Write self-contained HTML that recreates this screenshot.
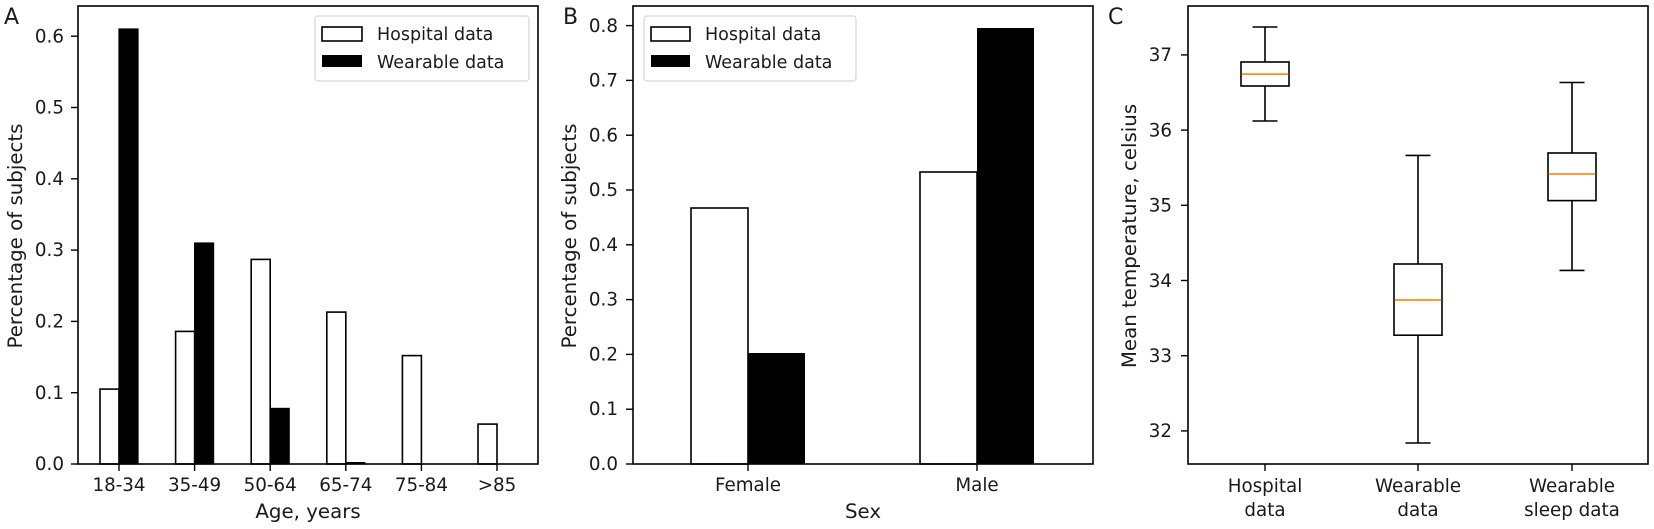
<!DOCTYPE html>
<html><head><meta charset="utf-8"><style>
html,body{margin:0;padding:0;background:#fff;}
svg{display:block;}
text{font-family:"DejaVu Sans","Liberation Sans",sans-serif;fill:#1a1a1a;}
.al{font-size:19.8px;}
</style></head><body>
<svg width="1654" height="529" viewBox="0 0 1654 529" xmlns="http://www.w3.org/2000/svg">
<g font-size="18.3">
<!-- Panel A -->
<text x="4" y="24" font-size="22">A</text>
<g stroke="#000" stroke-width="1.6" fill="#fff">
<rect x="100" y="389.1" width="19" height="74.9"/>
<rect x="175.6" y="331.4" width="19" height="132.6"/>
<rect x="251.2" y="259.4" width="19" height="204.6"/>
<rect x="326.8" y="312.1" width="19" height="151.9"/>
<rect x="402.4" y="355.6" width="19" height="108.4"/>
<rect x="478" y="424.1" width="19" height="39.9"/>
</g>
<g fill="#000" stroke="#000" stroke-width="1.2">
<rect x="119" y="29" width="19" height="435"/>
<rect x="194.6" y="243" width="19" height="221"/>
<rect x="270.2" y="408.4" width="19" height="55.6"/>
<rect x="345.8" y="462.6" width="19" height="1.4"/>
</g>
<rect x="78" y="6" width="460" height="458" fill="none" stroke="#000" stroke-width="1.6"/>
<g stroke="#000" stroke-width="1.4">
<line x1="71" x2="78" y1="464" y2="464"/><line x1="71" x2="78" y1="392.7" y2="392.7"/>
<line x1="71" x2="78" y1="321.4" y2="321.4"/><line x1="71" x2="78" y1="250.1" y2="250.1"/>
<line x1="71" x2="78" y1="178.8" y2="178.8"/><line x1="71" x2="78" y1="107.5" y2="107.5"/>
<line x1="71" x2="78" y1="36.2" y2="36.2"/>
<line x1="119" x2="119" y1="464" y2="471"/><line x1="194.6" x2="194.6" y1="464" y2="471"/>
<line x1="270.2" x2="270.2" y1="464" y2="471"/><line x1="345.8" x2="345.8" y1="464" y2="471"/>
<line x1="421.4" x2="421.4" y1="464" y2="471"/><line x1="497" x2="497" y1="464" y2="471"/>
</g>
<g text-anchor="end">
<text x="64" y="470">0.0</text><text x="64" y="399">0.1</text><text x="64" y="327.5">0.2</text>
<text x="64" y="256">0.3</text><text x="64" y="185">0.4</text><text x="64" y="113.5">0.5</text><text x="64" y="42.5">0.6</text>
</g>
<g text-anchor="middle">
<text x="119" y="491">18-34</text><text x="194.6" y="491">35-49</text><text x="270.2" y="491">50-64</text>
<text x="345.8" y="491">65-74</text><text x="421.4" y="491">75-84</text><text x="497" y="491">&gt;85</text>
<text class="al" x="308" y="518">Age, years</text>
<text class="al" transform="translate(22,236) rotate(-90)">Percentage of subjects</text>
</g>
<rect x="315" y="16" width="214" height="65" rx="3" fill="#fff" fill-opacity="0.8" stroke="#d6d6d6" stroke-width="1.2"/>
<rect x="322" y="27" width="40" height="14" fill="#fff" stroke="#000" stroke-width="1.6"/>
<rect x="322" y="55" width="40" height="12" fill="#000"/>
<text x="377" y="40" font-size="17.5">Hospital data</text>
<text x="377" y="68" font-size="17.5">Wearable data</text>

<!-- Panel B -->
<text x="563" y="24" font-size="22">B</text>
<g stroke="#000" stroke-width="1.6" fill="#fff">
<rect x="691" y="208" width="57" height="256"/>
<rect x="920" y="172" width="57" height="292"/>
</g>
<g fill="#000">
<rect x="748" y="353" width="57" height="111"/>
<rect x="977" y="28" width="57" height="436"/>
</g>
<rect x="633" y="6" width="460" height="458" fill="none" stroke="#000" stroke-width="1.6"/>
<g stroke="#000" stroke-width="1.4">
<line x1="626" x2="633" y1="464" y2="464"/><line x1="626" x2="633" y1="409.2" y2="409.2"/>
<line x1="626" x2="633" y1="354.4" y2="354.4"/><line x1="626" x2="633" y1="299.6" y2="299.6"/>
<line x1="626" x2="633" y1="244.8" y2="244.8"/><line x1="626" x2="633" y1="190" y2="190"/>
<line x1="626" x2="633" y1="135.2" y2="135.2"/><line x1="626" x2="633" y1="80.4" y2="80.4"/>
<line x1="626" x2="633" y1="25.6" y2="25.6"/>
<line x1="748" x2="748" y1="464" y2="471"/><line x1="977" x2="977" y1="464" y2="471"/>
</g>
<g text-anchor="end">
<text x="618" y="470">0.0</text><text x="618" y="415">0.1</text><text x="618" y="360.5">0.2</text>
<text x="618" y="305.5">0.3</text><text x="618" y="251">0.4</text><text x="618" y="196">0.5</text>
<text x="618" y="141.5">0.6</text><text x="618" y="86.5">0.7</text><text x="618" y="32">0.8</text>
</g>
<g text-anchor="middle">
<text x="748" y="491">Female</text><text x="977" y="491">Male</text>
<text class="al" x="863" y="518">Sex</text>
<text class="al" transform="translate(576,236) rotate(-90)">Percentage of subjects</text>
</g>
<rect x="644" y="16" width="212" height="65" rx="3" fill="#fff" fill-opacity="0.8" stroke="#d6d6d6" stroke-width="1.2"/>
<rect x="651" y="27" width="39" height="14" fill="#fff" stroke="#000" stroke-width="1.6"/>
<rect x="651" y="55" width="39" height="12" fill="#000"/>
<text x="705" y="40" font-size="17.5">Hospital data</text>
<text x="705" y="68" font-size="17.5">Wearable data</text>

<!-- Panel C -->
<text x="1108" y="24" font-size="22">C</text>
<rect x="1188" y="6" width="460" height="458" fill="none" stroke="#000" stroke-width="1.6"/>
<g stroke="#000" stroke-width="1.6" fill="none">
<line x1="1265" x2="1265" y1="27" y2="62"/><line x1="1265" x2="1265" y1="86" y2="121"/>
<line x1="1252.5" x2="1277.5" y1="27" y2="27"/><line x1="1252.5" x2="1277.5" y1="121" y2="121"/>
<rect x="1241" y="62" width="48" height="24"/>
<line x1="1418" x2="1418" y1="155.4" y2="264"/><line x1="1418" x2="1418" y1="335.2" y2="443"/>
<line x1="1405.5" x2="1430.5" y1="155.4" y2="155.4"/><line x1="1405.5" x2="1430.5" y1="443" y2="443"/>
<rect x="1394" y="264" width="48" height="71.2"/>
<line x1="1572" x2="1572" y1="82.5" y2="153"/><line x1="1572" x2="1572" y1="200.6" y2="270.4"/>
<line x1="1559.5" x2="1584.5" y1="82.5" y2="82.5"/><line x1="1559.5" x2="1584.5" y1="270.4" y2="270.4"/>
<rect x="1548" y="153" width="48" height="47.6"/>
</g>
<g stroke="#ff8c1a" stroke-width="1.8">
<line x1="1241.5" x2="1288.5" y1="74.1" y2="74.1"/>
<line x1="1394.5" x2="1441.5" y1="300" y2="300"/>
<line x1="1548.5" x2="1595.5" y1="174" y2="174"/>
</g>
<g stroke="#000" stroke-width="1.4">
<line x1="1181" x2="1188" y1="54.9" y2="54.9"/><line x1="1181" x2="1188" y1="130.1" y2="130.1"/>
<line x1="1181" x2="1188" y1="205.3" y2="205.3"/><line x1="1181" x2="1188" y1="280.5" y2="280.5"/>
<line x1="1181" x2="1188" y1="355.7" y2="355.7"/><line x1="1181" x2="1188" y1="430.9" y2="430.9"/>
<line x1="1265" x2="1265" y1="464" y2="471"/><line x1="1418" x2="1418" y1="464" y2="471"/>
<line x1="1572" x2="1572" y1="464" y2="471"/>
</g>
<g text-anchor="end">
<text x="1172" y="61">37</text><text x="1172" y="136.5">36</text><text x="1172" y="211.5">35</text>
<text x="1172" y="287">34</text><text x="1172" y="362">33</text><text x="1172" y="437">32</text>
</g>
<g text-anchor="middle">
<text x="1265" y="492">Hospital</text><text x="1265" y="516">data</text>
<text x="1418" y="492">Wearable</text><text x="1418" y="516">data</text>
<text x="1572" y="492">Wearable</text><text x="1572" y="516">sleep data</text>
<text class="al" transform="translate(1136,236) rotate(-90)">Mean temperature, celsius</text>
</g>
</g>
</svg>
</body></html>
